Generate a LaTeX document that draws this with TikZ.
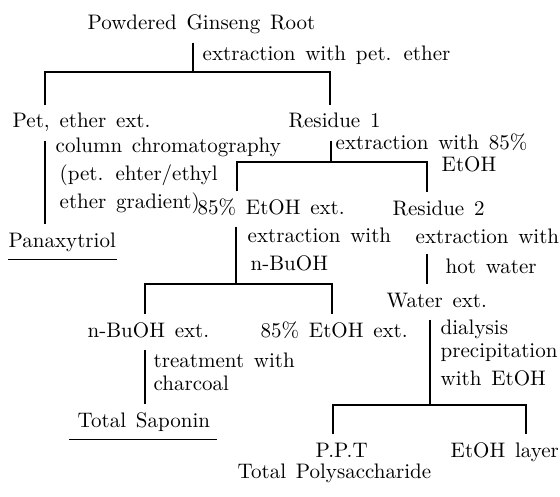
\documentclass[tikz,border=0pt]{standalone}
\usepackage{fontspec}
\setmainfont[WordSpace=1.4]{Latin Modern Roman}
\begin{document}
\begin{tikzpicture}[x=0.5pt, y=-0.5pt, line width=0.7pt,
    font=\fontsize{10.5}{14}\selectfont,
    item/.style={anchor=base west, inner xsep=0pt, inner ysep=4pt, text height=7pt, text depth=2pt},
    note/.style={anchor=north west, inner sep=0pt, align=left}]
    \useasboundingbox (0,0) rectangle (560,496);
    % Fractions and residues
    \node[item] (root) at (87,30) {Powdered Ginseng Root};
    \node[item] (petext) at (12,128) {Pet, ether ext.};
    \node[item] (res1) at (288,128) {Residue 1};
    \node[item] (panax) at (8,247) {Panaxytriol};
    \node[item] (ethext) at (197,214) {85\% EtOH ext.};
    \node[item] (res2) at (392,215) {Residue 2};
    \node[item] (butext) at (87,337) {n-BuOH ext.};
    \node[item] (ethext2) at (260,337) {85\% EtOH ext.};
    \node[item] (saponin) at (77,427) {Total Saponin};
    \node[item] (water) at (386,307) {Water ext.};
    \node[item] (ppt) at (315,457) {P.P.T};
    \node[item] (etlayer) at (450,457) {EtOH layer};
    \node[item] (polysac) at (237,478) {Total Polysaccharide};
    % Treatment notes
    \node[note] (petnote) at (202,45) {extraction with pet. ether};
    \node[note] (chrom) at (55,137) {column chromatography\\\hspace*{2pt}(pet. ehter/ethyl\\\hspace*{2pt}ether gradient)};
    \node[note] (etnote) at (335,133) {extraction with 85\%\\[-3pt]\hspace*{53pt}EtOH};
    \node[note] (bunote) at (247,227) {extraction with\\\hspace*{1.5pt}n-BuOH};
    \node[note] (charnote) at (153,352) {treatment with\\[-2.5pt]charcoal};
    \node[note] (hotnote) at (445,258) {hot water};
    \node[note] (dialnote) at (440,319) {dialysis\\[-2.5pt]precipitation\\with EtOH};
    % Branch points
    \coordinate (j1) at (193,72);
    \coordinate (j1l) at (45,72);
    \coordinate (j1r) at (330,72);
    \coordinate (j2) at (331,162);
    \coordinate (j2l) at (237,162);
    \coordinate (j2r) at (427,162);
    \coordinate (j3) at (236,284);
    \coordinate (j3l) at (145,284);
    \coordinate (j3r) at (332,284);
    \coordinate (j4) at (430,405);
    \coordinate (j4l) at (333,405);
    \coordinate (j4r) at (526,405);
    % Connecting lines
    \draw (root.south -| j1) -- (j1);
    \draw (petext.north -| j1l) -- (j1l) -- (j1r) -- (res1.north -| j1r);
    \draw (petext.south -| j1l) -- (panax.north -| j1l);
    \draw (res1.south -| j2) -- (j2);
    \draw (ethext.north -| j2l) -- (j2l) -- (j2r) -- (res2.north -| j2r);
    \draw (ethext.south -| j3) -- (j3);
    \draw (butext.north -| j3l) -- (j3l) -- (j3r) -- (ethext2.north -| j3r);
    \draw (butext.south -| j3l) -- (saponin.north -| j3l);
    \draw (res2.south -| j2r) -- (water.north -| j2r);
    \draw (water.south -| j4) -- (j4);
    \draw (ppt.north -| j4l) -- (j4l) -- (j4r) -- (etlayer.north -| j4r);
    % Underlined products
    \draw (panax.south west) -- (panax.south east);
    \draw ([xshift=-4pt]saponin.south west) -- ([xshift=3pt]saponin.south east);
    % Label over the Residue 2 line
    \node[note, fill=white, inner ysep=5pt] (extnote) at (415,218) {extraction with};
\end{tikzpicture}
\end{document}
